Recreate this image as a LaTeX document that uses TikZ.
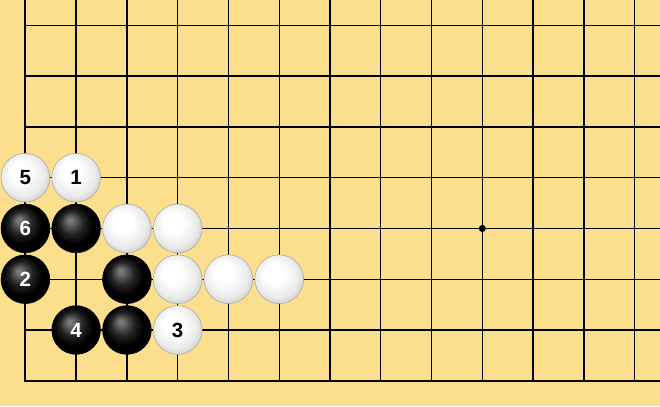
\documentclass[tikz,border=0pt]{standalone}
\usepackage{fontspec}
\setmainfont{Liberation Sans}
\definecolor{board}{RGB}{251,223,140}
\pgfdeclareradialshading{wshade}{\pgfpoint{-7bp}{9bp}}{color(0bp)=(white); color(10bp)=(white); color(22bp)=(black!8); color(30bp)=(black!22); color(36bp)=(black!40)}
\pgfdeclareradialshading{bshade}{\pgfpoint{-7bp}{9bp}}{color(0bp)=(black!50); color(3bp)=(black!56); color(12bp)=(black!86); color(20bp)=(black); color(26bp)=(black); color(31bp)=(black!76); color(36bp)=(black!88)}
\begin{document}
\begin{tikzpicture}[stone/.style={circle,minimum size=9.6mm,inner sep=0,font=\fontsize{11.5}{13}\selectfont\bfseries},
	wstone/.style={stone,shading=wshade,draw=black!35,line width=0.3pt,text=black},
	bstone/.style={stone,shading=bshade,draw=black,line width=0.3pt,text=white},
	grid/.style={line width=0.8pt}]
\fill[board] (-0.5,-0.5) rectangle (12.5,7.5);
\useasboundingbox (-0.5,-0.5) rectangle (12.5,7.5);
\foreach \x in {1,...,12}
	\draw[grid] (\x,0) -- (\x,7.5);
\foreach \y in {1,...,7}
	\draw[grid] (0,\y) -- (12.5,\y);
\draw[line width=1.1pt] (0,7.5) -- (0,0) -- (12.5,0);
\fill (9,3) circle (0.07);
% row 4
\node[wstone] (w5) at (0,4) {5};
\node[wstone] (w1) at (1,4) {1};
% row 3
\node[bstone] (b6) at (0,3) {6};
\node[bstone] (ba) at (1,3) {};
\node[wstone] (wa) at (2,3) {};
\node[wstone] (wb) at (3,3) {};
% row 2
\node[bstone] (b2) at (0,2) {2};
\node[bstone] (bb) at (2,2) {};
\node[wstone] (wc) at (3,2) {};
\node[wstone] (wd) at (4,2) {};
\node[wstone] (we) at (5,2) {};
% row 1
\node[bstone] (b4) at (1,1) {4};
\node[bstone] (bc) at (2,1) {};
\node[wstone] (w3) at (3,1) {3};
\end{tikzpicture}
\end{document}
